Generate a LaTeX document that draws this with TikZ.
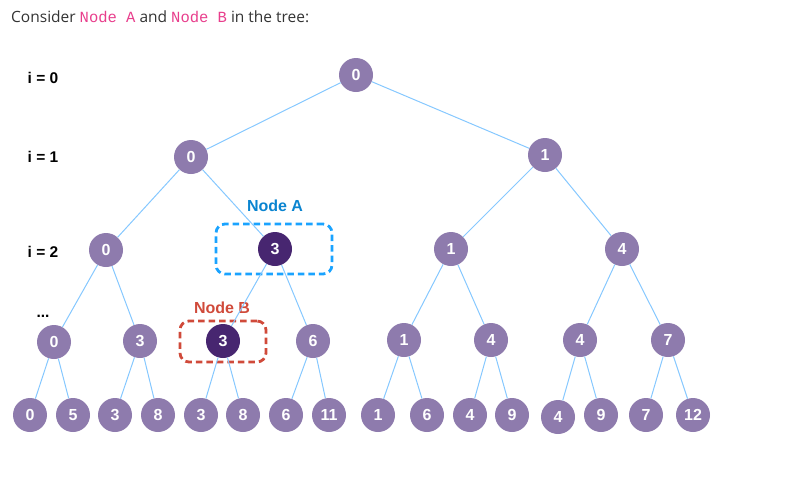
\documentclass[tikz,border=0pt]{standalone}
\usepackage{fontspec}
\setmainfont{Open Sans}
\setsansfont{Liberation Sans}
\setmonofont{Liberation Mono}
\definecolor{nodepurple}{HTML}{8E7BAD}
\definecolor{nodedark}{HTML}{472670}
\definecolor{edgeblue}{HTML}{86C8FF}
\definecolor{boxblue}{HTML}{1AA3FF}
\definecolor{labelblue}{HTML}{0A84D0}
\definecolor{boxred}{HTML}{D04A3A}
\definecolor{codepink}{HTML}{E83E8C}
\definecolor{textgray}{HTML}{333333}
\tikzset{
  tnode/.style={circle, fill=nodepurple, minimum size=34pt, inner sep=0pt, text=white, font=\sffamily\bfseries\fontsize{16}{16}\selectfont},
  tdark/.style={tnode, fill=nodedark},
  edge/.style={draw=edgeblue, line width=1pt},
  lvl/.style={font=\sffamily\bfseries\fontsize{15.5}{16}\selectfont, text=black},
  selbox/.style={rounded corners=9pt, line width=2.8pt, dash pattern=on 6.5pt off 4pt},
  sellabel/.style={font=\sffamily\bfseries\fontsize{16}{16}\selectfont}
}
\begin{document}
\begin{tikzpicture}[x=1pt,y=-1pt]
\useasboundingbox (0,0) rectangle (797,485);
\node[anchor=west, inner sep=0pt, text=textgray, font=\fontsize{15.5}{16}\selectfont] (title) at (11,17)
  {Consider {\ttfamily\color{codepink}Node~A} and {\ttfamily\color{codepink}Node~B} in the tree:};
% level labels
\node[lvl] (l0) at (43,78) {i = 0};
\node[lvl] (l1) at (43,157) {i = 1};
\node[lvl] (l2) at (43,252) {i = 2};
\node[lvl] (l3) at (43,316) {...};
% selection boxes
\node[selbox, draw=boxblue, minimum width=116pt, minimum height=50pt] (boxA) at (274,249) {};
\node[sellabel, text=labelblue] (labA) at (275,206) {Node A};
\node[selbox, draw=boxred, minimum width=86pt, minimum height=41pt] (boxB) at (223,341.5) {};
\node[sellabel, text=boxred] (labB) at (222,308) {Node B};
% tree nodes
\node[tnode] (r) at (356,75) {0};
\node[tnode] (a) at (191,157) {0};
\node[tnode] (b) at (545,155) {1};
\node[tnode] (aa) at (106,250) {0};
\node[tdark] (ab) at (275,249) {3};
\node[tnode] (ba) at (451,249) {1};
\node[tnode] (bb) at (622,249) {4};
\node[tnode] (c1) at (54,342) {0};
\node[tnode] (c2) at (140,341) {3};
\node[tdark] (c3) at (223,341) {3};
\node[tnode] (c4) at (313,341) {6};
\node[tnode] (c5) at (404,340) {1};
\node[tnode] (c6) at (491,340) {4};
\node[tnode] (c7) at (580,340) {4};
\node[tnode] (c8) at (668,340) {7};
\node[tnode] (d1) at (30,415) {0};
\node[tnode] (d2) at (73,415) {5};
\node[tnode] (d3) at (115,415) {3};
\node[tnode] (d4) at (158,415) {8};
\node[tnode] (d5) at (201,415) {3};
\node[tnode] (d6) at (243,415) {8};
\node[tnode] (d7) at (286,415) {6};
\node[tnode] (d8) at (329,415) {11};
\node[tnode] (d9) at (378,415) {1};
\node[tnode] (d10) at (427,415) {6};
\node[tnode] (d11) at (470,415) {4};
\node[tnode] (d12) at (512,415) {9};
\node[tnode] (d13) at (558,417) {4};
\node[tnode] (d14) at (601,415) {9};
\node[tnode] (d15) at (646,415) {7};
\node[tnode] (d16) at (693,415) {12};
% edges
\foreach \p/\c in {r/a,r/b,a/aa,a/ab,b/ba,b/bb,aa/c1,aa/c2,ab/c3,ab/c4,ba/c5,ba/c6,bb/c7,bb/c8,
  c1/d1,c1/d2,c2/d3,c2/d4,c3/d5,c3/d6,c4/d7,c4/d8,c5/d9,c5/d10,c6/d11,c6/d12,c7/d13,c7/d14,c8/d15,c8/d16}
  \draw[edge] (\p) -- (\c);
\end{tikzpicture}
\end{document}
